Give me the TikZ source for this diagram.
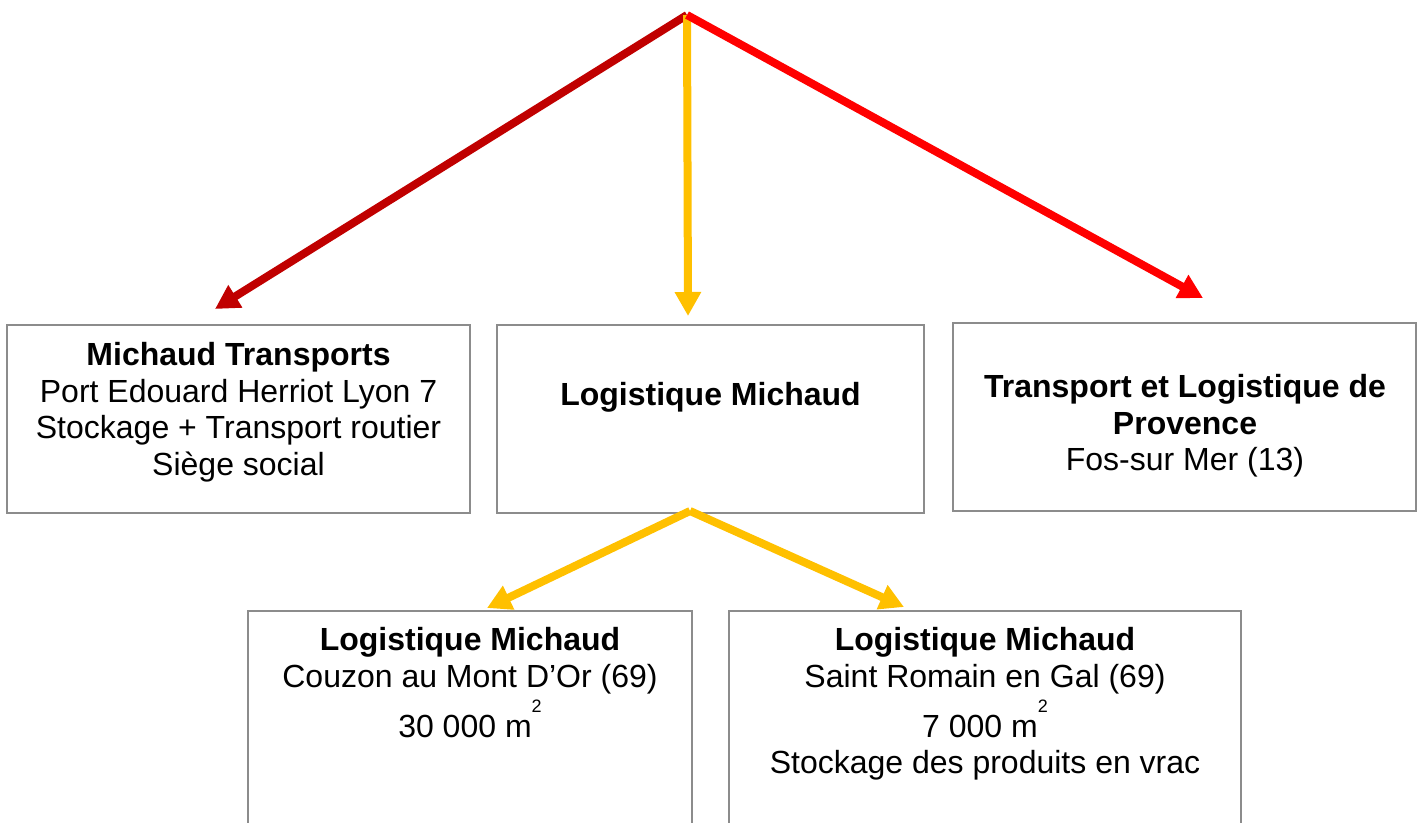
\documentclass[tikz,border=0pt]{standalone}
\usepackage{fontspec}
\setmainfont{Liberation Sans}
\usepackage{xcolor}
\usetikzlibrary{arrows.meta}

\definecolor{darkred}{HTML}{C00000}
\definecolor{amber}{HTML}{FFC000}
\definecolor{brightred}{HTML}{FF0000}
\definecolor{framegray}{HTML}{8C8C8C}

\tikzset{
	box/.style={draw=framegray,line width=.75pt,inner sep=0pt},
	boxtext/.style={anchor=north,align=center,inner sep=0pt,font=\fontsize{16}{18.4}\selectfont},
	link/.style={line width=4pt,-{Triangle[length=12pt,width=12.5pt]}}
}
\newcommand{\sqm}{m\raisebox{12.5pt}[0pt][0pt]{\fontsize{9}{10}\selectfont 2}}

\begin{document}
\begin{tikzpicture}[x=.5pt,y=-.5pt]
	\clip (0,0) rectangle (1422,823);
	
	\node[box,minimum width=231.5pt,minimum height=94pt] (mt) at (238.5,419) {};
	\node[box,minimum width=213.5pt,minimum height=94pt] (lm) at (710.5,419) {};
	\node[box,minimum width=231.5pt,minimum height=94pt] (tlp) at (1184.5,417) {};
	\node[box,minimum width=222pt,minimum height=144.5pt] (couzon) at (470,755.5) {};
	\node[box,minimum width=256pt,minimum height=144.5pt] (romain) at (985,755.5) {};
	
	\node[boxtext] (mt-txt) at (238.5,339.2) {\strut\textbf{Michaud Transports}\\Port Edouard Herriot Lyon 7\\Stockage + Transport routier\\Siège social};
	\node[boxtext] (lm-txt) at (710.5,379.2) {\strut\textbf{Logistique Michaud}};
	\node[boxtext] (tlp-txt) at (1185,371.2) {\strut\textbf{Transport et Logistique de}\\\textbf{Provence}\\Fos-sur Mer (13)};
	\node[boxtext] (couzon-txt) at (470,624.2) {\strut\textbf{Logistique Michaud}\\Couzon au Mont D’Or (69)\\[6.6pt]30 000 \sqm};
	\node[boxtext] (romain-txt) at (985,624.2) {\strut\textbf{Logistique Michaud}\\Saint Romain en Gal (69)\\[6.6pt]7 000 \sqm\\Stockage des produits en vrac};
	
	\coordinate (root) at (687,15);
	\coordinate (split) at (690,511);
	\coordinate (mt-in) at (215,309);
	\coordinate (lm-in) at (688,316);
	\coordinate (tlp-in) at (1203,298);
	\coordinate (couzon-in) at (487,608);
	\coordinate (romain-in) at (904,607);
	
	\draw[link,darkred] (root) -- (mt-in);
	\draw[link,amber] (root) -- (lm-in);
	\draw[link,brightred] (root) -- (tlp-in);
	\draw[link,amber] (split) -- (couzon-in);
	\draw[link,amber] (split) -- (romain-in);
\end{tikzpicture}
\end{document}
